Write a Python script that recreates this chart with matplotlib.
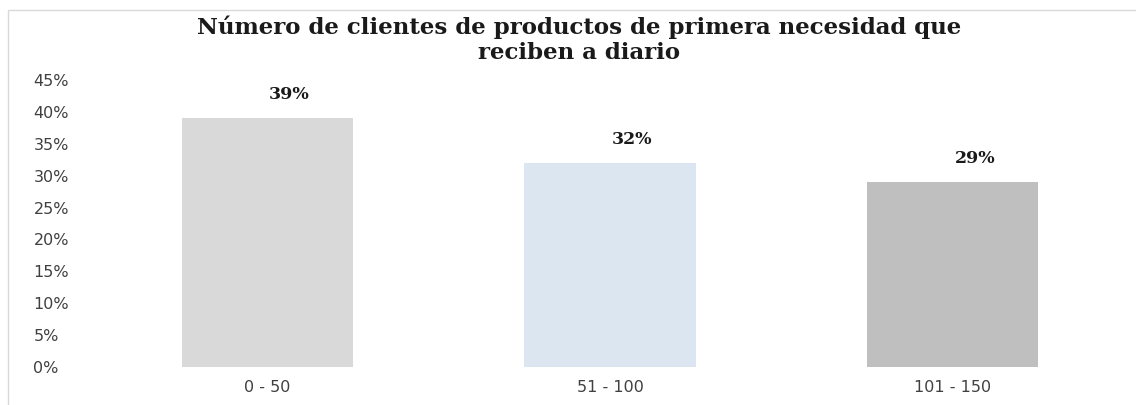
import matplotlib
matplotlib.use("Agg")
import matplotlib.pyplot as plt
from matplotlib.patches import Rectangle
from matplotlib.ticker import FuncFormatter

# ─── Data ──────────────────────────────────────────────────────────────────────
categories = ["0 - 50", "51 - 100", "101 - 150"]
values = [0.39, 0.32, 0.29]
labels = ["39%", "32%", "29%"]
bar_colors = ["#d9d9d9", "#dce6f1", "#bfbfbf"]
yticks = [0, 0.05, 0.10, 0.15, 0.20, 0.25, 0.30, 0.35, 0.40, 0.45]

title = "Número de clientes de productos de primera necesidad que\nreciben a diario"

# ─── Figure ────────────────────────────────────────────────────────────────────
W, H = 1136, 405
fig = plt.figure(figsize=(W / 100, H / 100), dpi=100, facecolor="white")
ax = fig.add_axes([96 / W, 1 - 367 / H, (1124 - 96) / W, (367 - 80) / H])

x = range(len(categories))
ax.bar(x, values, width=0.5, color=bar_colors)

for i, (v, lab) in enumerate(zip(values, labels)):
    ax.annotate(lab, (i, v), xytext=(16, 17), textcoords="offset points",
                ha="center", va="center", fontsize=12.5, fontweight="bold",
                family="DejaVu Serif", color="#1a1a1a")

ax.set_xlim(-0.5, 2.5)
ax.set_ylim(0, 0.45)
ax.set_yticks(yticks)
ax.yaxis.set_major_formatter(FuncFormatter(lambda v, p: f"{v * 100:.0f}%"))
ax.set_xticks(list(x))
ax.set_xticklabels(categories)

for s in ax.spines.values():
    s.set_visible(False)
ax.tick_params(axis="both", length=0, labelsize=11.5, labelcolor="#404040")
ax.tick_params(axis="x", pad=9)
ax.tick_params(axis="y", pad=45)
for t in ax.get_yticklabels():
    t.set_horizontalalignment("left")
    t.set_fontfamily("DejaVu Sans")
for t in ax.get_xticklabels():
    t.set_fontfamily("DejaVu Sans")

fig.text(579 / W, 1 - 40 / H, title, ha="center", va="center",
         fontsize=16.5, fontweight="bold", family="DejaVu Serif",
         color="#1a1a1a", linespacing=1.15)

# light frame around the chart area
fig.add_artist(Rectangle((8 / W, -0.1), 1.2, 1 - 10 / H + 0.1,
                         transform=fig.transFigure, fill=False,
                         edgecolor="#d9d9d9", linewidth=1))

fig.savefig("out.png", dpi=100, facecolor="white")
